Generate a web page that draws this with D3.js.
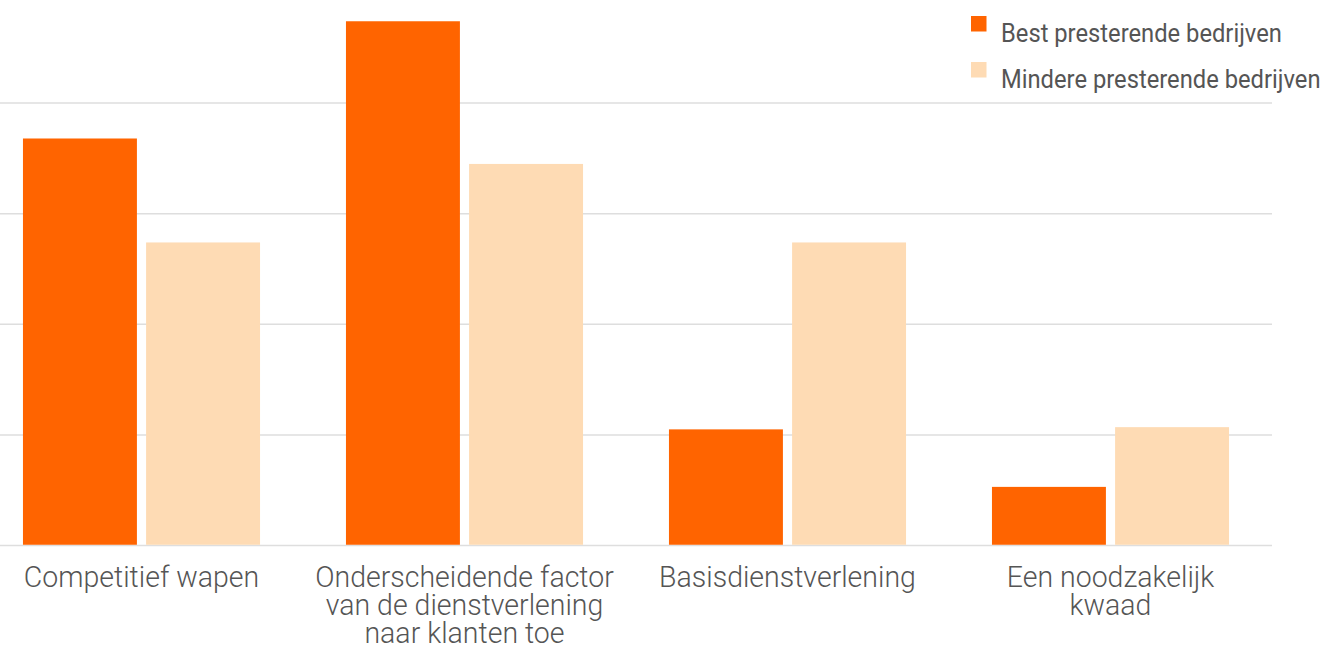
<!DOCTYPE html>
<html>
<head>
<meta charset="utf-8">
<script src="https://cdn.jsdelivr.net/npm/d3@7"></script>
<style>
  body { margin: 0; background: #fff; }
  text { font-family: Roboto, sans-serif; font-weight: 300; fill: #555; }
</style>
</head>
<body>
<svg width="1326" height="650"></svg>
<script>
var svg = d3.select("svg");

// data
var categories = [
  ["Competitief wapen"],
  ["Onderscheidende factor", "van de dienstverlening", "naar klanten toe"],
  ["Basisdienstverlening"],
  ["Een noodzakelijk", "kwaad"]
];
var seriesNames = ["Best presterende bedrijven", "Mindere presterende bedrijven"];
var bestValues = [36.8, 47.4, 10.5, 5.3];
var minderValues = [27.4, 34.5, 27.4, 10.7];
var gridTicks = [0, 10, 20, 30, 40];

var colors = ["#ff6400", "#fedbb4"];

var catKeys = categories.map(function(c) { return c.join(" "); });

var x0 = d3.scaleBand()
  .domain(catKeys)
  .range([-20, 1272])
  .paddingInner(0.266)
  .paddingOuter(0.133);

var x1 = d3.scaleBand()
  .domain(seriesNames)
  .range([0, x0.bandwidth()])
  .paddingInner(0.0745);

var y = d3.scaleLinear().domain([0, 50]).range([545.5, -7.5]);

// gridlines
svg.append("g").selectAll("line")
  .data(gridTicks)
  .enter().append("line")
  .attr("x1", 0).attr("x2", 1272)
  .attr("y1", function(d) { return y(d); })
  .attr("y2", function(d) { return y(d); })
  .attr("stroke", "#dedede")
  .attr("stroke-width", 1.5);

var rows = catKeys.map(function(k, i) {
  return { key: k, vals: [bestValues[i], minderValues[i]] };
});

var groups = svg.append("g").selectAll("g")
  .data(rows)
  .enter().append("g")
  .attr("transform", function(d) { return "translate(" + x0(d.key) + ",0)"; });

groups.selectAll("rect")
  .data(function(d) { return d.vals.map(function(v, j) { return { s: seriesNames[j], v: v, j: j }; }); })
  .enter().append("rect")
  .attr("x", function(d) { return x1(d.s); })
  .attr("width", x1.bandwidth())
  .attr("y", function(d) { return y(d.v); })
  .attr("height", function(d) { return y(0) - y(d.v) - 0.75; })
  .attr("fill", function(d) { return colors[d.j]; });

// category labels (slightly condensed by scaling)
var labels = svg.append("g").selectAll("g")
  .data(categories)
  .enter().append("g")
  .attr("transform", function(d, i) {
    return "translate(" + (x0(catKeys[i]) + x0.bandwidth() / 2) + ",587) scale(0.95,1)";
  });

labels.selectAll("text")
  .data(function(d) { return d; })
  .enter().append("text")
  .attr("text-anchor", "middle")
  .attr("y", function(d, i) { return i * 28; })
  .style("font-size", "30px")
  .text(function(d) { return d; });

// legend
var legend = svg.append("g").selectAll("g")
  .data(seriesNames)
  .enter().append("g")
  .attr("transform", function(d, i) { return "translate(971," + (16 + i * 46) + ")"; });

legend.append("rect")
  .attr("width", 15.5).attr("height", 15.5)
  .attr("fill", function(d, i) { return colors[i]; });

legend.append("text")
  .attr("transform", "translate(30,26) scale(0.95,1)")
  .style("font-size", "25px")
  .style("font-weight", 400)
  .text(function(d) { return d; });
</script>
</body>
</html>
